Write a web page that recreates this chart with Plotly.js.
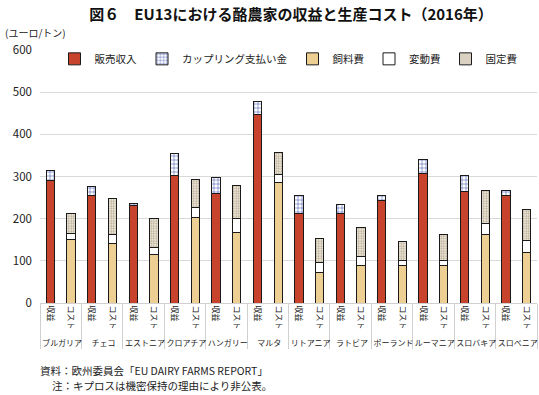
<!DOCTYPE html>
<html><head><meta charset="utf-8">
<script src="https://cdn.plot.ly/plotly-3.0.1.min.js"></script>
<style>html,body{margin:0;padding:0;background:#fff}</style>
</head><body>
<div id="chart" style="width:539px;height:395px"></div>
<script>
const countries = ["ブルガリア","チェコ","エストニア","クロアチア","ハンガリー","マルタ","リトアニア","ラトビア","ポーランド","ルーマニア","スロバキア","スロベニア"];
const subLabels = ["収益","コスト"];
const sales    = [290,256,232,303,259,447,213,213,244,307,264,255];
const coupling = [25,20,3,52,39,31,42,21,11,33,38,11];
const feed     = [150,142,114,203,167,286,73,89,88,90,163,120];
const variable = [14,21,18,24,34,19,22,22,12,10,26,29];
const fixed    = [48,86,69,66,78,53,58,67,47,63,77,73];

const lvl1 = [], lvl2 = [];
countries.forEach(c => { subLabels.forEach(s => { lvl1.push(s); lvl2.push(c); }); });
const x = [lvl2, lvl1];
function onRev(arr){ const o=[]; arr.forEach(v=>{o.push(v); o.push(null);}); return o; }
function onCost(arr){ const o=[]; arr.forEach(v=>{o.push(null); o.push(v);}); return o; }
const line = {color:'#1a1a1a', width:1};
const font = "Noto Sans CJK JP, sans-serif";
const traces = [
  {name:'販売収入', y:onRev(sales), marker:{color:'#C8432B', line}},
  {name:'カップリング支払い金', y:onRev(coupling), marker:{color:'#ffffff', line, pattern:{shape:'+', fgcolor:'#4050B0', bgcolor:'#ffffff', size:4, solidity:0.25}}},
  {name:'飼料費', y:onCost(feed), marker:{color:'#EECF93', line}},
  {name:'変動費', y:onCost(variable), marker:{color:'#ffffff', line}},
  {name:'固定費', y:onCost(fixed), marker:{color:'#EDE6D8', line, pattern:{shape:'.', fgcolor:'#B5A68C', bgcolor:'#F3EFE6', size:2.5, solidity:0.45}}}
].map(t => Object.assign({type:'bar', x:x, hoverinfo:'skip'}, t));

const layout = {
  width:539, height:395,
  margin:{l:40, r:2, t:50, b:92},
  paper_bgcolor:'#fff', plot_bgcolor:'#fff',
  font:{family:font, size:10, color:'#222'},
  barmode:'stack', bargap:0.6,
  title:{text:'<b>図６　EU13における酪農家の収益と生産コスト（2016年）</b>', x:0.54, xanchor:'center', y:0.962, yanchor:'middle', font:{family:font, size:15, color:'#111'}},
  xaxis:{type:'multicategory', tickangle:90, tickfont:{size:8, family:font}, showdividers:true, dividercolor:'#d0d0d0', dividerwidth:1, showgrid:false, ticks:'', linecolor:'#d0d0d0', showline:true},
  yaxis:{range:[0,600], dtick:100, showgrid:true, gridcolor:'#d9d9d9', gridwidth:1, zeroline:false, tickfont:{size:11.5, family:font}, ticks:'', showline:false, ticklabelstandoff:7},
  legend:{orientation:'h', x:0.5, xanchor:'center', y:0.965, yanchor:'middle', font:{size:10.5, family:font}, bgcolor:'rgba(0,0,0,0)', traceorder:'normal', itemwidth:30},
  annotations:[
    {text:'(ユーロ/トン)', xref:'paper', yref:'paper', x:-0.075, xanchor:'left', y:1.07, yanchor:'middle', showarrow:false, font:{size:10, family:font}},
    {text:'資料：欧州委員会「EU DAIRY FARMS REPORT」', xref:'paper', yref:'paper', x:-0.005, xanchor:'left', y:-0.268, yanchor:'middle', showarrow:false, font:{size:10.5, family:font}},
    {text:'注：キプロスは機密保持の理由により非公表。', xref:'paper', yref:'paper', x:0.02, xanchor:'left', y:-0.327, yanchor:'middle', showarrow:false, font:{size:10.5, family:font}}
  ]
};
Plotly.newPlot('chart', traces, layout, {staticPlot:true, displayModeBar:false});
</script>
</body></html>
